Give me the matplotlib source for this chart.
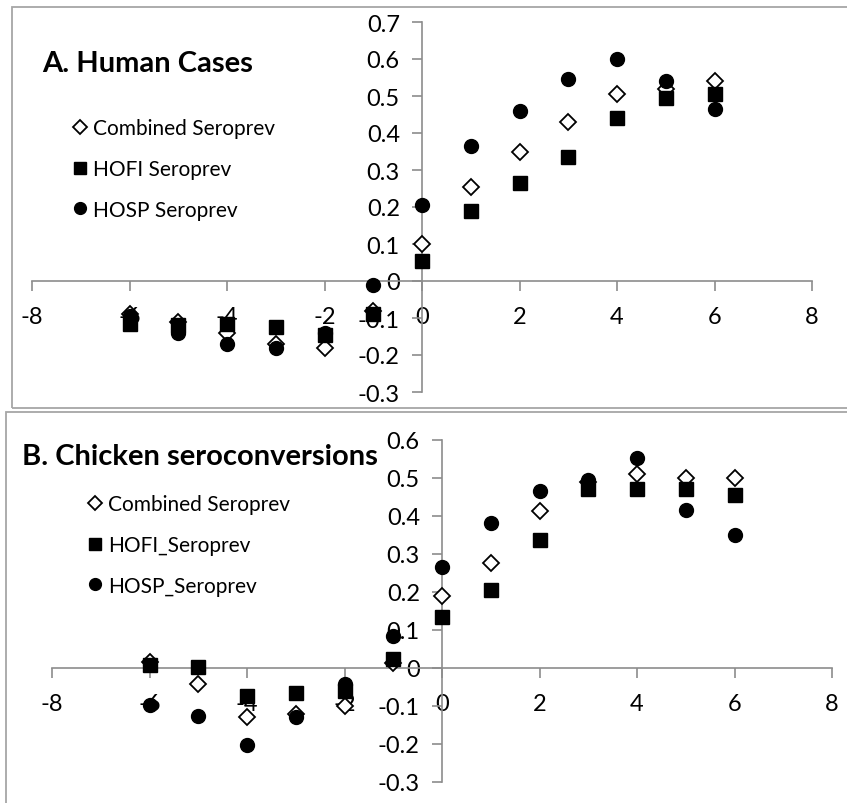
import matplotlib.pyplot as plt
from matplotlib.patches import Rectangle

plt.rcParams['font.family'] = ['Lato', 'DejaVu Sans']
plt.rcParams['axes.unicode_minus'] = False

months = [-6, -5, -4, -3, -2, -1, 0, 1, 2, 3, 4, 5, 6]

# panel A - human cases
a_combined = [-0.09, -0.11, -0.14, -0.17, -0.18, -0.08, 0.10, 0.255, 0.35, 0.43, 0.505, 0.52, 0.54]
a_hofi = [-0.115, -0.12, -0.115, -0.125, -0.145, -0.09, 0.055, 0.19, 0.265, 0.335, 0.44, 0.495, 0.505]
a_hosp = [-0.095, -0.14, -0.17, -0.18, -0.14, -0.01, 0.205, 0.365, 0.46, 0.545, 0.60, 0.54, 0.465]

# panel B - chicken seroconversions
b_combined = [0.017, -0.042, -0.13, -0.12, -0.10, 0.013, 0.19, 0.277, 0.413, 0.49, 0.51, 0.50, 0.50]
b_hofi = [0.007, 0.002, -0.074, -0.067, -0.06, 0.024, 0.134, 0.204, 0.338, 0.472, 0.47, 0.472, 0.454]
b_hosp = [-0.098, -0.127, -0.203, -0.128, -0.041, 0.083, 0.266, 0.382, 0.465, 0.495, 0.552, 0.415, 0.351]

a_labels = ["Combined Seroprev", "HOFI Seroprev", "HOSP Seroprev"]
b_labels = ["Combined Seroprev", "HOFI_Seroprev", "HOSP_Seroprev"]

W, H = 847, 804
fig = plt.figure(figsize=(W / 100, H / 100), dpi=100)

# panel borders
fig.patches.append(Rectangle((12 / W, 1 - 409 / H), 1, 401 / H, transform=fig.transFigure,
                             fill=False, edgecolor='#a6a6a6', linewidth=1.3))
fig.patches.append(Rectangle((6 / W, -0.05), 1, 1 - 413 / H + 0.05, transform=fig.transFigure,
                             fill=False, edgecolor='#a6a6a6', linewidth=1.3))


def setup(ax, ymin, ymax):
    ax.set_xlim(-8, 8)
    ax.set_ylim(ymin, ymax)
    ax.spines['left'].set_position(('data', 0))
    ax.spines['bottom'].set_position(('data', 0))
    ax.spines['right'].set_visible(False)
    ax.spines['top'].set_visible(False)
    for s in ['left', 'bottom']:
        ax.spines[s].set_color('#8c8c8c')
        ax.spines[s].set_linewidth(1.2)
    ax.set_xticks(range(-8, 9, 2))
    yt = [round(ymin + 0.1 * i, 1) for i in range(int(round((ymax - ymin) / 0.1)) + 1)]
    ax.set_yticks(yt)
    ax.set_yticklabels(['0' if v == 0 else f'{v:g}' for v in yt])
    ax.tick_params(axis='both', colors='#8c8c8c', labelcolor='black', labelsize=17,
                   length=7, width=1.2, direction='out')
    ax.tick_params(axis='x', pad=11)
    ax.tick_params(axis='y', pad=9)
    ax.patch.set_alpha(0)


def draw(ax, comb, hofi, hosp, labels):
    ax.plot(months, comb, linestyle='none', marker='D', markersize=8.5,
            markerfacecolor='white', markeredgecolor='black', markeredgewidth=1.3,
            label=labels[0], zorder=3, clip_on=False)
    ax.plot(months, hofi, linestyle='none', marker='s', markersize=9.5,
            color='black', label=labels[1], zorder=4, clip_on=False)
    ax.plot(months, hosp, linestyle='none', marker='o', markersize=10,
            color='black', label=labels[2], zorder=5, clip_on=False)


leg_kw = dict(frameon=False, fontsize=15, handletextpad=0.1, labelspacing=1.0,
              handlelength=1.0, markerscale=0.85, borderaxespad=0, borderpad=0)

# panel A
axA = fig.add_axes([32 / W, 1 - 393 / H, 780 / W, 370 / H])
setup(axA, -0.3, 0.7)
draw(axA, a_combined, a_hofi, a_hosp, a_labels)
fig.text(42 / W, 1 - 64 / H, "A. Human Cases", fontsize=21, fontweight='bold',
         va='center', ha='left')
axA.legend(loc='upper left', bbox_to_anchor=(70 / W, 1 - 119 / H),
           bbox_transform=fig.transFigure, **leg_kw)

# panel B
axB = fig.add_axes([52 / W, 1 - 783 / H, 780 / W, 342 / H])
setup(axB, -0.3, 0.6)
draw(axB, b_combined, b_hofi, b_hosp, b_labels)
fig.text(22 / W, 1 - 457 / H, "B. Chicken seroconversions", fontsize=21, fontweight='bold',
         va='center', ha='left')
axB.legend(loc='upper left', bbox_to_anchor=(85 / W, 1 - 495 / H),
           bbox_transform=fig.transFigure, **leg_kw)

fig.savefig('out.png', dpi=100)
